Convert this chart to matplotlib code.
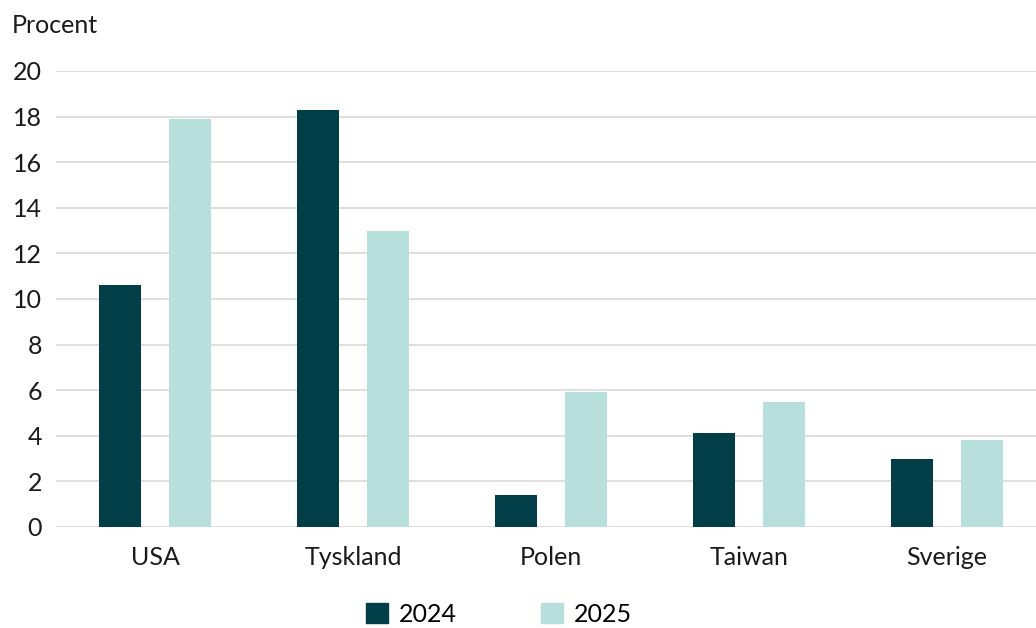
import matplotlib
matplotlib.use("Agg")
import matplotlib.pyplot as plt
import numpy as np
from matplotlib.patches import Patch

plt.rcParams['font.family'] = ['Lato', 'DejaVu Sans']

categories = ["USA", "Tyskland", "Polen", "Taiwan", "Sverige"]
series_names = ["2024", "2025"]
values_2024 = [10.6, 18.3, 1.4, 4.1, 3.0]
values_2025 = [17.9, 13.0, 5.9, 5.5, 3.8]
yticks = [0, 2, 4, 6, 8, 10, 12, 14, 16, 18, 20]

c1 = "#023e48"
c2 = "#b7e0dc"

fig = plt.figure(figsize=(10.36, 6.28), dpi=100)
ax = fig.add_axes([0.054, 0.161, 0.9556, 0.726])

x = np.arange(len(categories))
w = 0.212
ax.bar(x - 0.177, values_2024, width=w, color=c1, zorder=3)
ax.bar(x + 0.177, values_2025, width=w, color=c2, zorder=3)

ax.set_xlim(-0.5, len(categories) - 0.5)
ax.set_ylim(0, 20)
ax.set_yticks(yticks)
ax.set_yticklabels([str(t) for t in yticks])
ax.set_xticks(x)
ax.set_xticklabels(categories)
ax.tick_params(axis='both', length=0, labelsize=18, colors="#1a1a1a")
ax.tick_params(axis='y', pad=10)
ax.tick_params(axis='x', pad=14)
ax.grid(axis='y', color="#d9d9d9", linewidth=1.2, zorder=0)
for s in ax.spines.values():
    s.set_visible(False)

fig.text(0.011, 0.96, "Procent", fontsize=18, color="#1a1a1a", va='center', ha='left')

handles = [Patch(color=c1), Patch(color=c2)]
fig.legend(handles, series_names, loc='center', bbox_to_anchor=(0.4817, 0.022),
           ncol=2, frameon=False, fontsize=18, handlelength=0.88, handleheight=0.88,
           handletextpad=0.4, columnspacing=3.4)

fig.savefig("out.png", dpi=100)
